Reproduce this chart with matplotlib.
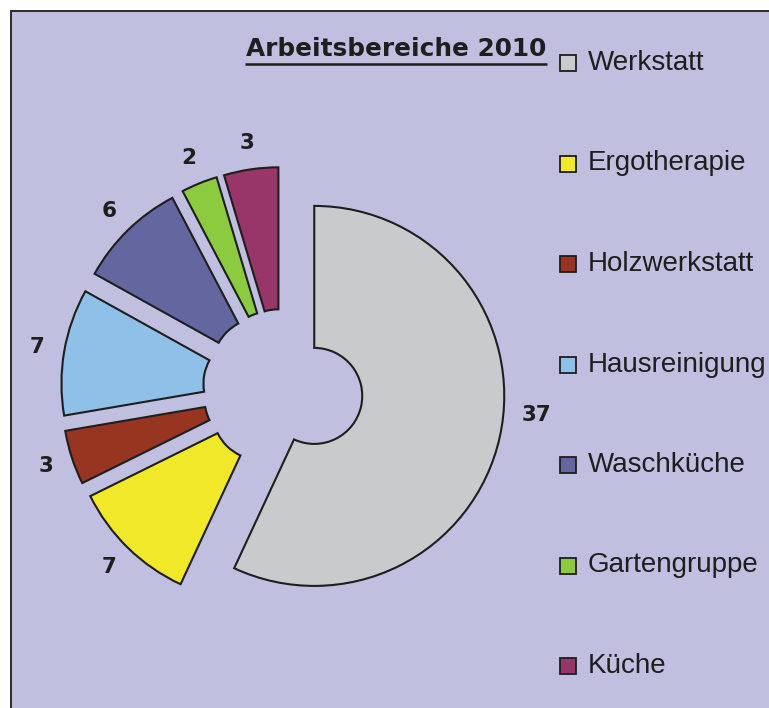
import numpy as np
import matplotlib
matplotlib.use("Agg")
import matplotlib.pyplot as plt
from matplotlib.patches import Rectangle

# Chart data
categories = ["Werkstatt", "Ergotherapie", "Holzwerkstatt", "Hausreinigung",
              "Waschküche", "Gartengruppe", "Küche"]
counts = [37, 7, 3, 7, 6, 2, 3]
colors = ["#C9CACC", "#F2E82A", "#983520", "#8EC0E8",
          "#6466A0", "#8CCB3F", "#983669"]
title = "Arbeitsbereiche 2010"

W, H = 769, 708
BG = "#C1BFE0"
EDGE = "#1E1E1E"

fig = plt.figure(figsize=(W / 100, H / 100), dpi=100, facecolor="white")
ax = fig.add_axes([0, 0, 1, 1])


def fy(y):
    """Convert a top-down pixel row into the axes' bottom-up units."""
    return H - y


# Chart area with its frame (open towards the right and bottom edge)
ax.add_patch(Rectangle((10.5, -30), 820, fy(10.5) + 30, facecolor=BG,
                       edgecolor=EDGE, linewidth=1.3, zorder=0))

# Exploded doughnut
cx, cy = 283, fy(389)
R, hole, gap = 190, 48, 32
wedges, _ = ax.pie(counts, colors=colors, radius=R, center=(cx, cy),
                   startangle=90, counterclock=False, explode=[gap] * len(counts),
                   wedgeprops=dict(width=R - hole, edgecolor=EDGE, linewidth=1.5,
                                   joinstyle="miter"))
for w in wedges:
    w.set_zorder(2)

# Value labels outside each ring segment
total = sum(counts)
label_r = 249
nudge = {0: (6.5, 6)}  # (angle, radius) offset for the large segment
start = 90.0
for i, v in enumerate(counts):
    sweep = 360.0 * v / total
    mid = start - sweep / 2
    start -= sweep
    da, dr = nudge.get(i, (0, 0))
    a = np.deg2rad(mid + da)
    r = label_r + dr
    ax.text(cx + r * np.cos(a), cy + r * np.sin(a), str(v),
            ha="center", va="center", fontsize=15.5, fontweight="bold",
            family="DejaVu Sans", color="#1E1E1E", zorder=3)

# Title with underline
t = ax.text(396, fy(56.5), title, ha="center", va="baseline", fontsize=17.8,
            fontweight="bold", family="DejaVu Sans", color="#1E1E1E", zorder=3)

# Legend on the right
for i, (name, c) in enumerate(zip(categories, colors)):
    yc = fy(63 + i * 100.5)
    ax.add_patch(Rectangle((560, yc - 8), 16, 16, facecolor=c, edgecolor=EDGE,
                           linewidth=1.3, zorder=3))
    ax.text(588, yc, name, ha="left", va="center", fontsize=20,
            family="Liberation Sans", color="#1E1E1E", zorder=3)

ax.set_xlim(0, W)
ax.set_ylim(0, H)
ax.set_aspect("auto")
ax.set_axis_off()

fig.canvas.draw()
bb = t.get_window_extent(renderer=fig.canvas.get_renderer())
x0, x1 = ax.transData.inverted().transform([[bb.x0, 0], [bb.x1, 0]])[:, 0]
ax.plot([x0 - 1, x1 + 1], [fy(64), fy(64)], color="#1E1E1E", linewidth=1.8,
        solid_capstyle="butt", zorder=3)

fig.savefig("out.png", dpi=100, facecolor="white")
